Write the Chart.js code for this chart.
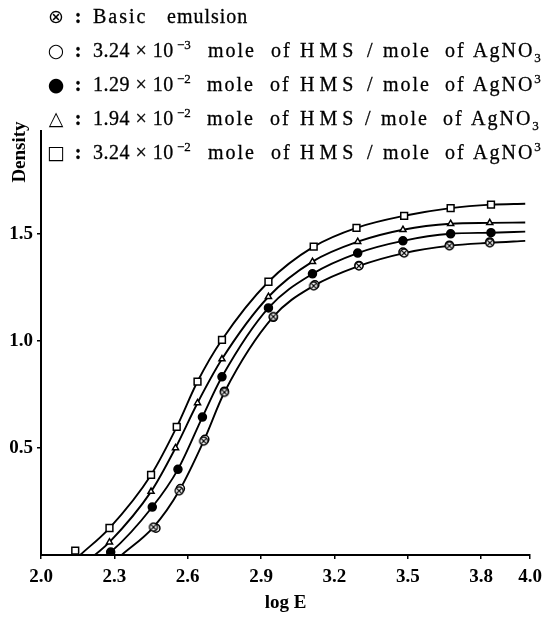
<!DOCTYPE html>
<html><head><meta charset="utf-8">
<script src="https://cdn.jsdelivr.net/npm/chart.js@4/dist/chart.umd.min.js"></script>
<style>
html,body{margin:0;padding:0;background:#fff;}
#wrap{position:relative;width:549px;height:618px;}
#c{position:absolute;left:0;top:0;}
#legend{position:absolute;left:0;top:0;width:549px;font-family:'Liberation Serif',serif;font-size:20px;color:#000;letter-spacing:2px;-webkit-text-stroke:0.3px #000;}
.row{position:absolute;left:0;width:549px;white-space:nowrap;height:26px;line-height:26px;}
.row span.p{position:absolute;top:0;}
.mk{width:22px;text-align:center;letter-spacing:0;font-family:'DejaVu Sans',sans-serif;font-size:19px;-webkit-text-stroke:0;}
.co{width:8px;text-align:center;letter-spacing:0;font-weight:bold;}
.num{letter-spacing:0.5px;}
.caps{letter-spacing:5px;}
.tight{letter-spacing:1px;}
sup,sub{font-size:13px;line-height:0;letter-spacing:0;}
</style>
</head><body>
<div id="wrap">
<canvas id="c" width="549" height="618"></canvas>
<div id="legend"></div>
</div>
<script>
// ---- data (log E, density) ----
const xTickValues = [2.0, 2.3, 2.6, 2.9, 3.2, 3.5, 3.8, 4.0];
const yTickValues = [0.5, 1.0, 1.5];

const seriesNames = [
  'Basic emulsion',
  '3.24×10⁻³ mole of HMS / mole of AgNO₃',
  '1.29×10⁻² mole of HMS / mole of AgNO³',
  '1.94×10⁻² mole of HMS / mole of AgNO₃',
  '3.24×10⁻² mole of HMS / mole of AgNO³'
];

const basicX = [2.46, 2.565, 2.665, 2.75, 2.95, 3.115, 3.30, 3.485, 3.67, 3.835];
const basicY = [0.13, 0.30, 0.532, 0.76, 1.113, 1.257, 1.35, 1.41, 1.444, 1.458];

const hms324e3X = [2.47, 2.57, 2.67, 2.75, 2.95, 3.12, 3.30, 3.48, 3.67, 3.835];
const hms324e3Y = [0.125, 0.31, 0.54, 0.765, 1.11, 1.262, 1.352, 1.415, 1.447, 1.462];

const hms129e2X = [2.285, 2.455, 2.56, 2.66, 2.74, 2.93, 3.11, 3.295, 3.48, 3.675, 3.84];
const hms129e2Y = [0.014, 0.224, 0.40, 0.644, 0.832, 1.154, 1.313, 1.41, 1.467, 1.50, 1.505];

const hms194e2X = [2.28, 2.45, 2.55, 2.64, 2.74, 2.93, 3.11, 3.295, 3.48, 3.675, 3.835];
const hms194e2Y = [0.06, 0.296, 0.50, 0.71, 0.915, 1.206, 1.37, 1.463, 1.519, 1.547, 1.551];

const hms324e2X = [2.14, 2.28, 2.45, 2.555, 2.64, 2.74, 2.93, 3.115, 3.29, 3.485, 3.675, 3.84];
const hms324e2Y = [0.02, 0.126, 0.374, 0.598, 0.81, 1.005, 1.276, 1.44, 1.528, 1.584, 1.62, 1.636];

// fitted curves
const curveBasicX = [2.33, 2.46, 2.565, 2.665, 2.75, 2.95, 3.115, 3.30, 3.485, 3.67, 3.835, 3.98];
const curveBasicY = [0.0, 0.13, 0.30, 0.532, 0.76, 1.113, 1.257, 1.35, 1.41, 1.444, 1.458, 1.467];
const curve129X = [2.265, 2.285, 2.455, 2.56, 2.66, 2.74, 2.93, 3.11, 3.295, 3.48, 3.675, 3.84, 3.98];
const curve129Y = [0.0, 0.014, 0.224, 0.40, 0.644, 0.832, 1.154, 1.313, 1.41, 1.467, 1.50, 1.505, 1.51];
const curve194X = [2.22, 2.28, 2.45, 2.55, 2.64, 2.74, 2.93, 3.11, 3.295, 3.48, 3.675, 3.835, 3.98];
const curve194Y = [0.0, 0.06, 0.296, 0.50, 0.71, 0.915, 1.206, 1.37, 1.463, 1.519, 1.547, 1.551, 1.553];
const curve324X = [2.16, 2.28, 2.45, 2.555, 2.64, 2.74, 2.93, 3.115, 3.29, 3.485, 3.675, 3.84, 3.98];
const curve324Y = [0.0, 0.126, 0.374, 0.598, 0.81, 1.005, 1.276, 1.44, 1.528, 1.584, 1.62, 1.636, 1.64];

// ---- legend (real text, words placed like the printed figure) ----
const legendRows = [
  {top: 3, mark: '⊗', words: [['Basic', 93, ''], ['emulsion', 167, 'tight']]},
  {top: 37, mark: '○', words: [['3.24 × 10<sup> −3</sup>', 93, 'num'], ['mole', 208, ''], ['of', 271, ''], ['HMS', 300, 'caps'], ['/', 367, ''], ['mole', 383, ''], ['of', 445, ''], ['AgNO<sub>3</sub>', 473, '']]},
  {top: 71, mark: '●', words: [['1.29 × 10<sup> −2</sup>', 93, 'num'], ['mole', 207, ''], ['of', 270, ''], ['HMS', 300, 'caps'], ['/', 367, ''], ['mole', 383, ''], ['of', 445, ''], ['AgNO<sup>3</sup>', 473, '']]},
  {top: 105, mark: '△', words: [['1.94 × 10<sup> −2</sup>', 93, 'num'], ['mole', 207, ''], ['of', 270, ''], ['HMS', 300, 'caps'], ['/', 365, ''], ['mole', 381, ''], ['of', 443, ''], ['AgNO<sub>3</sub>', 471, '']]},
  {top: 139, mark: '□', words: [['3.24 × 10<sup> −2</sup>', 93, 'num'], ['mole', 208, ''], ['of', 271, ''], ['HMS', 300, 'caps'], ['/', 367, ''], ['mole', 383, ''], ['of', 445, ''], ['AgNO<sup>3</sup>', 473, '']]}
];
const legendEl = document.getElementById('legend');
legendRows.forEach(r => {
  const row = document.createElement('div');
  row.className = 'row';
  row.style.top = r.top + 'px';
  let html = '<span class="p mk" style="left:45px">' + r.mark + '</span><span class="p co" style="left:74px">:</span>';
  r.words.forEach(w => { html += '<span class="p ' + w[2] + '" style="left:' + w[1] + 'px">' + w[0] + '</span>'; });
  row.innerHTML = html;
  legendEl.appendChild(row);
});

const pts = (xs, ys) => xs.map((x, i) => ({x: x, y: ys[i]}));

function makeOtimes(r) {
  const s = Math.ceil(2 * r + 4);
  const c = document.createElement('canvas');
  c.width = s; c.height = s;
  const g = c.getContext('2d');
  g.fillStyle = '#fff'; g.strokeStyle = '#000'; g.lineWidth = 1.4;
  g.beginPath(); g.arc(s / 2, s / 2, r, 0, 2 * Math.PI); g.fill(); g.stroke();
  const d = r * 0.72;
  g.beginPath();
  g.moveTo(s / 2 - d, s / 2 - d); g.lineTo(s / 2 + d, s / 2 + d);
  g.moveTo(s / 2 + d, s / 2 - d); g.lineTo(s / 2 - d, s / 2 + d);
  g.stroke();
  return c;
}

const markerBase = {showLine: false, borderColor: '#000', borderWidth: 1.5, backgroundColor: '#fff'};
const lineBase = {showLine: true, pointRadius: 0, borderColor: '#000', borderWidth: 1.9,
  cubicInterpolationMode: 'monotone', fill: false};

const densityLabel = {
  id: 'densityLabel',
  afterDraw(chart) {
    const ctx = chart.ctx;
    ctx.save();
    ctx.translate(20, 152);
    ctx.rotate(-Math.PI / 2);
    ctx.font = 'bold 19px "Liberation Serif", serif';
    ctx.fillStyle = '#000';
    ctx.textAlign = 'center';
    ctx.textBaseline = 'middle';
    ctx.fillText('Density', 0, 0);
    ctx.restore();
  }
};

new Chart(document.getElementById('c'), {
  type: 'scatter',
  data: {
    datasets: [
      Object.assign({}, markerBase, {label: seriesNames[4], data: pts(hms324e2X, hms324e2Y), pointStyle: 'rect', pointRadius: 4.8}),
      Object.assign({}, markerBase, {label: seriesNames[3], data: pts(hms194e2X, hms194e2Y), pointStyle: 'triangle', pointRadius: 3.5}),
      Object.assign({}, markerBase, {label: seriesNames[2], data: pts(hms129e2X, hms129e2Y), pointStyle: 'circle', pointRadius: 4, backgroundColor: '#000'}),
      Object.assign({}, markerBase, {label: seriesNames[0], data: pts(basicX, basicY), pointStyle: makeOtimes(4)}),
      Object.assign({}, markerBase, {label: seriesNames[1], data: pts(hms324e3X, hms324e3Y), pointStyle: 'circle', pointRadius: 4}),
      Object.assign({}, lineBase, {label: 'curve 3.24e-2', data: pts(curve324X, curve324Y)}),
      Object.assign({}, lineBase, {label: 'curve 1.94e-2', data: pts(curve194X, curve194Y)}),
      Object.assign({}, lineBase, {label: 'curve 1.29e-2', data: pts(curve129X, curve129Y)}),
      Object.assign({}, lineBase, {label: 'curve basic', data: pts(curveBasicX, curveBasicY)})
    ]
  },
  options: {
    responsive: false,
    animation: false,
    layout: {padding: {top: 131, right: 12, bottom: 0, left: 0}},
    plugins: {legend: {display: false}, tooltip: {enabled: false}},
    scales: {
      x: {
        type: 'linear', min: 2.0, max: 4.0,
        afterBuildTicks(scale) { scale.ticks = xTickValues.map(v => ({value: v})); },
        afterFit(scale) { scale.height = 63; },
        ticks: {color: '#000', padding: 7, font: {family: '"Liberation Serif", serif', size: 19, weight: 'bold'},
          callback: v => Number(v).toFixed(1)},
        grid: {display: true, drawOnChartArea: false, drawTicks: true, tickLength: 4, color: '#000', lineWidth: 1.5},
        border: {display: true, color: '#000', width: 2},
        title: {display: true, text: 'log E', color: '#000', padding: {top: 4, bottom: 4},
          font: {family: '"Liberation Serif", serif', size: 19, weight: 'bold'}}
      },
      y: {
        type: 'linear', min: 0, max: 1.98,
        afterBuildTicks(scale) { scale.ticks = yTickValues.map(v => ({value: v})); },
        afterFit(scale) { scale.width = 41; },
        ticks: {color: '#000', padding: 4, font: {family: '"Liberation Serif", serif', size: 19, weight: 'bold'},
          callback: v => Number(v).toFixed(1)},
        grid: {display: true, drawOnChartArea: false, drawTicks: true, tickLength: 4, color: '#000', lineWidth: 1.5},
        border: {display: true, color: '#000', width: 2}
      }
    }
  },
  plugins: [densityLabel]
});
</script>
</body></html>
